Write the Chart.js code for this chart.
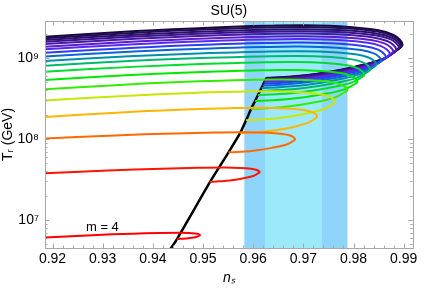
<!DOCTYPE html>
<html><head><meta charset="utf-8">
<script src="https://cdn.jsdelivr.net/npm/chart.js@4.4.1/dist/chart.umd.min.js"></script>
<style>html,body{margin:0;padding:0;background:#fff}#wrap{width:436px;height:288px}</style>
</head><body><div id="wrap"><canvas id="c" width="436" height="288"></canvas></div>
<script>
// ---- data ----
const mValues=[4,5,6,7,8,9,10,11,12,13,14,15,16,17,18,19,20,21,22];
const ns4=[0.91747,0.92790,0.93599,0.94138,0.94541,0.94721,0.94840,0.94900,0.94928,0.94940,0.94926,0.94880,0.94780,0.94665,0.94559,0.94481];
const T4=[6.03e6,6.49e6,6.78e6,6.91e6,6.95e6,6.91e6,6.83e6,6.74e6,6.62e6,6.49e6,6.40e6,6.22e6,6.05e6,5.91e6,5.86e6,5.82e6];
const ns5=[0.91747,0.93104,0.94182,0.94900,0.95439,0.95748,0.95956,0.96060,0.96108,0.96128,0.96098,0.96000,0.95782,0.95535,0.95317,0.95140];
const T5=[3.74e7,4.08e7,4.30e7,4.40e7,4.44e7,4.39e7,4.29e7,4.17e7,4.04e7,3.89e7,3.76e7,3.49e7,3.25e7,3.07e7,3.00e7,2.96e7];
const ns6=[0.91747,0.93244,0.94441,0.95240,0.95838,0.96287,0.96587,0.96737,0.96806,0.96836,0.96796,0.96665,0.96371,0.96040,0.95748,0.95509];
const T6=[1.006e8,1.108e8,1.171e8,1.200e8,1.210e8,1.191e8,1.151e8,1.102e8,1.050e8,9.91e7,9.45e7,8.55e7,7.77e7,7.21e7,6.95e7,6.85e7];
const ns7=[0.91747,0.93363,0.94661,0.95529,0.96178,0.96673,0.97002,0.97166,0.97244,0.97276,0.97230,0.97076,0.96737,0.96353,0.96016,0.95739];
const T7=[1.85e8,2.13e8,2.31e8,2.40e8,2.43e8,2.38e8,2.28e8,2.16e8,2.03e8,1.90e8,1.78e8,1.57e8,1.38e8,1.26e8,1.20e8,1.18e8];
const ns8=[0.91747,0.93433,0.94792,0.95699,0.96377,0.96944,0.97321,0.97509,0.97597,0.97635,0.97581,0.97403,0.97014,0.96569,0.96178,0.95858];
const T8=[2.96e8,3.40e8,3.70e8,3.83e8,3.88e8,3.79e8,3.60e8,3.36e8,3.12e8,2.86e8,2.67e8,2.33e8,2.03e8,1.83e8,1.74e8,1.70e8];
const ns9=[0.91747,0.93503,0.94921,0.95868,0.96577,0.97162,0.97551,0.97745,0.97834,0.97875,0.97816,0.97625,0.97204,0.96725,0.96303,0.95958];
const T9=[4.07e8,4.72e8,5.16e8,5.36e8,5.43e8,5.30e8,5.04e8,4.72e8,4.37e8,4.03e8,3.75e8,3.24e8,2.82e8,2.53e8,2.40e8,2.35e8];
const ns10=[0.91747,0.93558,0.95025,0.96003,0.96737,0.97339,0.97741,0.97940,0.98034,0.98074,0.98012,0.97808,0.97361,0.96852,0.96405,0.96038];
const T10=[5.31e8,6.17e8,6.74e8,7.01e8,7.11e8,6.92e8,6.53e8,6.06e8,5.56e8,5.06e8,4.71e8,4.07e8,3.54e8,3.18e8,3.01e8,2.94e8];
const ns11=[0.91747,0.93593,0.95090,0.96088,0.96836,0.97455,0.97870,0.98076,0.98172,0.98214,0.98150,0.97938,0.97473,0.96942,0.96477,0.96096];
const T11=[6.72e8,7.77e8,8.48e8,8.81e8,8.93e8,8.67e8,8.14e8,7.50e8,6.83e8,6.17e8,5.73e8,4.91e8,4.24e8,3.78e8,3.57e8,3.49e8];
const ns12=[0.91747,0.93614,0.95129,0.96139,0.96896,0.97543,0.97974,0.98190,0.98289,0.98333,0.98267,0.98048,0.97565,0.97014,0.96531,0.96136];
const T12=[7.97e8,9.22e8,1.005e9,1.044e9,1.059e9,1.027e9,9.62e8,8.84e8,8.04e8,7.21e8,6.66e8,5.65e8,4.82e8,4.26e8,4.02e8,3.91e8];
const ns13=[0.91747,0.93628,0.95155,0.96173,0.96936,0.97619,0.98074,0.98301,0.98407,0.98453,0.98385,0.98156,0.97653,0.97080,0.96577,0.96166];
const T13=[9.11e8,1.055e9,1.152e9,1.197e9,1.213e9,1.177e9,1.104e9,1.016e9,9.24e8,8.31e8,7.61e8,6.36e8,5.35e8,4.68e8,4.40e8,4.26e8];
const ns14=[0.91747,0.93628,0.95155,0.96173,0.96936,0.97665,0.98149,0.98391,0.98505,0.98553,0.98481,0.98246,0.97727,0.97136,0.96615,0.96190];
const T14=[1.035e9,1.200e9,1.312e9,1.364e9,1.383e9,1.340e9,1.253e9,1.148e9,1.040e9,9.31e8,8.49e8,7.01e8,5.83e8,5.09e8,4.71e8,4.58e8];
const ns15=[0.91747,0.93642,0.95181,0.96207,0.96976,0.97727,0.98226,0.98477,0.98593,0.98643,0.98569,0.98327,0.97790,0.97184,0.96647,0.96210];
const T15=[1.153e9,1.341e9,1.468e9,1.528e9,1.549e9,1.500e9,1.399e9,1.278e9,1.153e9,1.029e9,9.33e8,7.61e8,6.26e8,5.38e8,5.00e8,4.84e8];
const ns16=[0.91747,0.93642,0.95181,0.96207,0.96976,0.97762,0.98285,0.98548,0.98671,0.98723,0.98647,0.98397,0.97848,0.97224,0.96673,0.96224];
const T16=[1.270e9,1.480e9,1.622e9,1.688e9,1.711e9,1.654e9,1.539e9,1.403e9,1.262e9,1.120e9,1.011e9,8.15e8,6.62e8,5.65e8,5.22e8,5.06e8];
const ns17=[0.91747,0.93656,0.95207,0.96240,0.97016,0.97814,0.98348,0.98615,0.98739,0.98792,0.98717,0.98459,0.97896,0.97258,0.96695,0.96234];
const T17=[1.367e9,1.600e9,1.758e9,1.832e9,1.858e9,1.795e9,1.667e9,1.515e9,1.359e9,1.203e9,1.080e9,8.60e8,6.91e8,5.84e8,5.38e8,5.20e8];
const ns18=[0.91747,0.93656,0.95207,0.96240,0.97016,0.97842,0.98393,0.98669,0.98796,0.98852,0.98774,0.98513,0.97940,0.97287,0.96713,0.96244];
const T18=[1.476e9,1.728e9,1.898e9,1.978e9,2.007e9,1.935e9,1.791e9,1.621e9,1.446e9,1.273e9,1.137e9,9.00e8,7.19e8,6.05e8,5.54e8,5.35e8];
const ns19=[0.91747,0.93663,0.95216,0.96250,0.97036,0.97876,0.98435,0.98716,0.98846,0.98902,0.98822,0.98557,0.97974,0.97311,0.96727,0.96250];
const T19=[1.576e9,1.844e9,2.026e9,2.112e9,2.142e9,2.064e9,1.907e9,1.723e9,1.535e9,1.348e9,1.200e9,9.39e8,7.42e8,6.20e8,5.66e8,5.46e8];
const ns20=[0.91747,0.93663,0.95216,0.96250,0.97036,0.97890,0.98458,0.98743,0.98876,0.98932,0.98852,0.98585,0.97996,0.97325,0.96737,0.96256];
const T20=[1.654e9,1.943e9,2.141e9,2.234e9,2.268e9,2.181e9,2.008e9,1.804e9,1.598e9,1.395e9,1.238e9,9.64e8,7.59e8,6.31e8,5.76e8,5.55e8];
const ns21=[0.91747,0.93670,0.95233,0.96275,0.97056,0.97912,0.98483,0.98768,0.98900,0.98958,0.98876,0.98607,0.98014,0.97339,0.96747,0.96261];
const T21=[1.736e9,2.054e9,2.274e9,2.377e9,2.414e9,2.314e9,2.116e9,1.885e9,1.653e9,1.427e9,1.264e9,9.83e8,7.72e8,6.42e8,5.84e8,5.63e8];
const ns22=[0.91747,0.93670,0.95233,0.96275,0.97056,0.97920,0.98497,0.98786,0.98920,0.98978,0.98896,0.98625,0.98028,0.97351,0.96772,0.96266];
const T22=[1.817e9,2.153e9,2.385e9,2.494e9,2.533e9,2.422e9,2.202e9,1.947e9,1.693e9,1.447e9,1.281e9,9.97e8,7.83e8,6.49e8,5.91e8,5.70e8];
const nsBlack=[0.94172,0.94481,0.95140,0.95509,0.95739,0.95858,0.95958,0.96038,0.96096,0.96136,0.96166,0.96190,0.96210,0.96224,0.96234,0.96244,0.96250,0.96256,0.96261,0.96266];
const TBlack=[3.03e6,5.82e6,2.96e7,6.85e7,1.18e8,1.70e8,2.35e8,2.94e8,3.49e8,3.91e8,4.26e8,4.58e8,4.84e8,5.06e8,5.20e8,5.35e8,5.46e8,5.55e8,5.63e8,5.70e8];
const bandOuter=[0.95824,0.97880];
const bandInner=[0.96237,0.97369];
const xTicks=[0.92,0.93,0.94,0.95,0.96,0.97,0.98,0.99];
const yTicks=[1e7,1e8,1e9];
const noteText=['m = 4'];
const noteNs=[0.92994];
const noteT=[8.2e6];

// ---- styling ----
const nsSets=[ns4,ns5,ns6,ns7,ns8,ns9,ns10,ns11,ns12,ns13,ns14,ns15,ns16,ns17,ns18,ns19,ns20,ns21,ns22];
const TSets=[T4,T5,T6,T7,T8,T9,T10,T11,T12,T13,T14,T15,T16,T17,T18,T19,T20,T21,T22];
const colors=['#ff0000','#ff1400','#ff6a00','#ffb400','#c8e600','#33ec00','#00e800','#00dd30','#00b872',
  '#0090aa','#0a66d8','#2a40f0','#5a28f0','#5c1cd0','#4a18a8','#3a1488','#2c106c','#220c55','#1a0840'];
const FONT='"Liberation Sans", Arial, sans-serif';

const datasets=mValues.map((m,i)=>({
  label:'m = '+m,
  data:nsSets[i].map((x,j)=>({x:x,y:TSets[i][j]})),
  borderColor:colors[i],borderWidth:2,showLine:true,pointRadius:0,tension:0.4,clip:0
}));
datasets.push({label:'endpoints',data:nsBlack.map((x,j)=>({x:x,y:TBlack[j]})),
  borderColor:'#000',borderWidth:2.5,showLine:true,pointRadius:0,tension:0.2,clip:0});

const bandPlugin={id:'bands',beforeDatasetsDraw(chart){
  const {ctx,chartArea:a,scales:{x}}=chart;
  ctx.save();
  ctx.fillStyle='#8ed4fb';
  const o0=x.getPixelForValue(bandOuter[0]),o1=x.getPixelForValue(bandOuter[1]);
  ctx.fillRect(o0,a.top,o1-o0,a.bottom-a.top);
  ctx.fillStyle='#9de9fc';
  const i0=x.getPixelForValue(bandInner[0]),i1=x.getPixelForValue(bandInner[1]);
  ctx.fillRect(i0,a.top,i1-i0,a.bottom-a.top);
  ctx.restore();
}};
const framePlugin={id:'frame',afterDatasetsDraw(chart){
  const {ctx,chartArea:a,scales:{x,y}}=chart;
  ctx.save();
  ctx.strokeStyle='#a8a8a8';ctx.lineWidth=1;
  ctx.strokeRect(Math.round(a.left)+0.5,Math.round(a.top)+0.5,Math.round(a.right-a.left),Math.round(a.bottom-a.top));
  ctx.beginPath();
  for(let k=0;k<=40;k++){
    const v=0.918+k*0.002; if(v>x.max) break; if(v<x.min) continue;
    const px=Math.round(x.getPixelForValue(v))+0.5;
    const major=Math.abs(v*100-Math.round(v*100))<1e-6;
    const L=major?4.5:2.5;
    ctx.moveTo(px,a.bottom);ctx.lineTo(px,a.bottom-L);
    ctx.moveTo(px,a.top);ctx.lineTo(px,a.top+L);
  }
  for(let e=6;e<=9;e++){for(let d=1;d<=9;d++){
    const v=d*Math.pow(10,e); if(v<y.min||v>y.max) continue;
    const py=Math.round(y.getPixelForValue(v))+0.5;
    const L=d===1?4.5:2.5;
    ctx.moveTo(a.left,py);ctx.lineTo(a.left+L,py);
    ctx.moveTo(a.right,py);ctx.lineTo(a.right-L,py);
  }}
  ctx.stroke();
  ctx.fillStyle='#000';ctx.font='13px '+FONT;ctx.textAlign='center';ctx.textBaseline='middle';
  noteText.forEach((t,i)=>ctx.fillText(t,x.getPixelForValue(noteNs[i]),y.getPixelForValue(noteT[i])));
  ctx.restore();
}};
const sup={'0':'\u2070','1':'\u00b9','2':'\u00b2','3':'\u00b3','4':'\u2074','5':'\u2075','6':'\u2076','7':'\u2077','8':'\u2078','9':'\u2079'};

new Chart(document.getElementById('c'),{
  type:'scatter',
  data:{datasets},
  options:{
    responsive:false,animation:false,devicePixelRatio:1,
    layout:{padding:{left:0,right:23.3,top:0,bottom:0}},
    elements:{line:{capBezierPoints:false}},
    plugins:{legend:{display:false},tooltip:{enabled:false},
      title:{display:true,text:'SU(5)',fullSize:false,color:'#000',font:{family:FONT,size:14,weight:'normal'},padding:{top:2.5,bottom:1.7}}},
    scales:{
      x:{type:'linear',min:0.9185,max:0.9918,
        grid:{display:false,drawTicks:false},border:{display:false},
        afterBuildTicks(s){s.ticks=xTicks.map(v=>({value:v}));},
        afterFit(s){s.height=40;},
        ticks:{color:'#000',font:{family:FONT,size:14},padding:3,maxRotation:0,autoSkip:false,includeBounds:false,
          callback:(v)=>Number(v).toFixed(2)},
        title:{display:true,text:'n\u209b',color:'#000',font:{family:FONT,size:14,style:'italic'},padding:{top:0,bottom:1}}},
      y:{type:'logarithmic',min:4.51e6,max:2.863e9,
        grid:{display:false,drawTicks:false},border:{display:false},
        afterBuildTicks(s){s.ticks=yTicks.map(v=>({value:v}));},
        afterFit(s){s.width=45;},
        ticks:{color:'#000',font:{family:FONT,size:14},padding:6,autoSkip:false,
          callback:(v)=>{const e=String(Math.round(Math.log10(v)));return '10'+e.split('').map(c=>sup[c]).join('');}},
        title:{display:true,text:'T\u1d63 (GeV)',color:'#000',font:{family:FONT,size:14},padding:{top:0,bottom:0}}}
    }
  },
  plugins:[bandPlugin,framePlugin]
});
</script></body></html>
